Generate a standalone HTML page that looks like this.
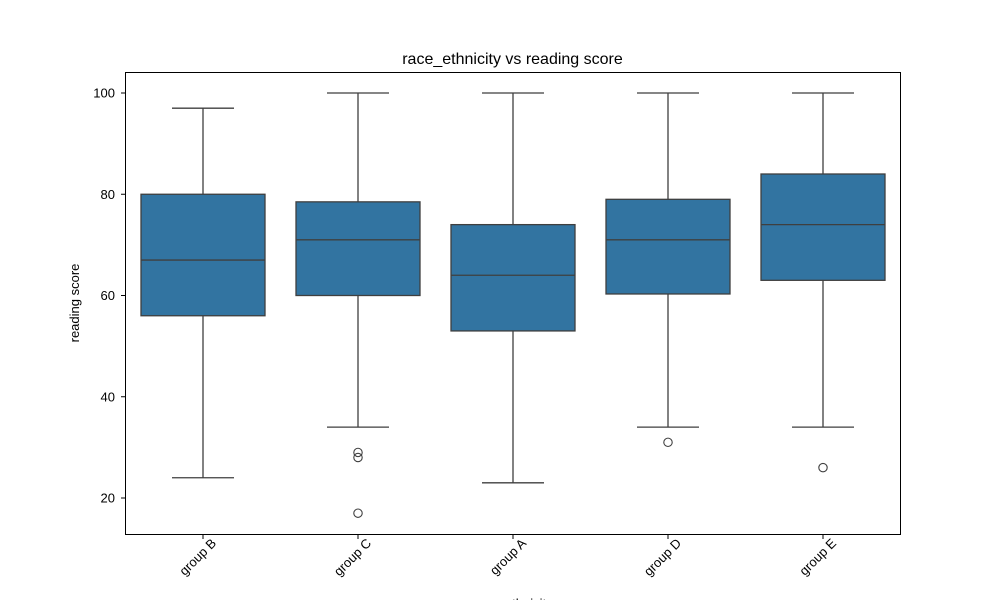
<!DOCTYPE html>
<html><head><meta charset="utf-8"><style>
body{margin:0;background:#fff;}
svg text{font-family:"Liberation Sans","DejaVu Sans",sans-serif;fill:#000;}
</style></head><body>
<svg id="chart" width="1000" height="600" xmlns="http://www.w3.org/2000/svg">
<rect x="0" y="0" width="1000" height="600" fill="#fff"/>
<text x="512.5" y="64" font-size="16" text-anchor="middle">race_ethnicity vs reading score</text>
<g id="marks"></g>
<rect x="125.5" y="72.5" width="775" height="462" fill="none" stroke="#000" stroke-width="1"/>
<text transform="translate(79,303) rotate(-90)" font-size="13" text-anchor="middle">reading score</text>
<text x="512.5" y="608" font-size="13" text-anchor="middle">race_ethnicity</text>
</svg>
<script>
const categories=["group B","group C","group A","group D","group E"];
const whiskerLow=[24,34,23,34,34];
const q1=[56,60,53,60.3,63];
const medians=[67,71,64,71,74];
const q3=[80,78.5,74,79,84];
const whiskerHigh=[97,100,100,100,100];
const outliers=[[],[29,28,17],[],[31],[26]];
const yTicks=[20,40,60,80,100];
const NS="http://www.w3.org/2000/svg";
const svg=document.getElementById('chart');
const g=document.getElementById('marks');
function y(v){return 498-(v-20)*405/80;}
function x(i){return 203+i*155;}
function mk(t,a,p){const e=document.createElementNS(NS,t);for(const k in a)e.setAttribute(k,a[k]);(p||g).appendChild(e);return e;}
yTicks.forEach(v=>{
  const t=mk('line',{x1:121,x2:125,y1:y(v),y2:y(v),stroke:'#000'},svg);
  
  
  const l=mk('text',{x:115,y:y(v)+4.5,'font-size':13,'text-anchor':'end'},svg);
  l.textContent=v;
  
  
});
const hw=62,c='#3f3f3f';
categories.forEach((cat,i)=>{
  const cx=x(i);
  const wl=mk('line',{x1:cx,x2:cx,y1:y(whiskerLow[i]),y2:y(q1[i]),stroke:c,'stroke-width':1.3});
  
  
  const wh=mk('line',{x1:cx,x2:cx,y1:y(q3[i]),y2:y(whiskerHigh[i]),stroke:c,'stroke-width':1.3});
  
  
  [whiskerLow[i],whiskerHigh[i]].forEach(v=>{
    const cap=mk('line',{x1:cx-31,x2:cx+31,y1:y(v),y2:y(v),stroke:c,'stroke-width':1.3});
    
    
  });
  const b=mk('rect',{x:cx-hw,y:y(q3[i]),width:hw*2,height:y(q1[i])-y(q3[i]),fill:'#3274a1',stroke:c,'stroke-width':1.3});
  
  
  const m=mk('line',{x1:cx-hw,x2:cx+hw,y1:y(medians[i]),y2:y(medians[i]),stroke:c,'stroke-width':1.3});
  
  
  outliers[i].forEach(v=>{
    const o=mk('circle',{cx:cx,cy:y(v),r:4.2,fill:'none',stroke:c,'stroke-width':1.1});
    
    
  });
  const t=mk('line',{x1:cx,x2:cx,y1:535,y2:539,stroke:'#000'},svg);
  
  
  const l=mk('text',{transform:`translate(${cx+14},${544}) rotate(-45)`,'font-size':13,'text-anchor':'end'},svg);
  l.textContent=cat;
  
  
});
</script>
</body></html>
